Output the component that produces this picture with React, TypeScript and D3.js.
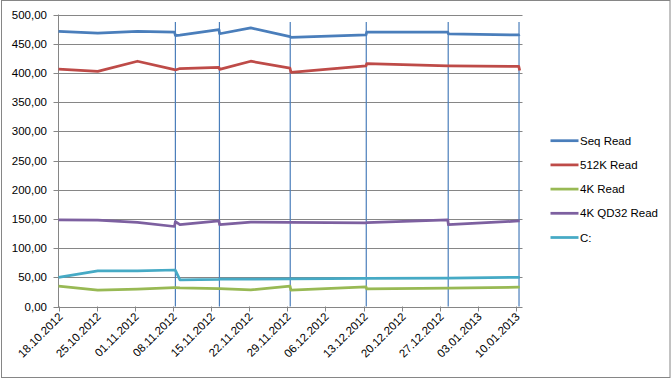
import React from "react";
import * as d3 from "d3";

const dates = [
  "2012-10-18 00:00", "2012-10-25 05:00", "2012-11-01 12:00", "2012-11-08 07:00",
  "2012-11-08 11:00", "2012-11-09 07:00", "2012-11-16 11:00", "2012-11-16 14:00",
  "2012-11-22 07:00", "2012-11-29 12:00", "2012-11-29 16:00", "2012-12-13 11:00",
  "2012-12-13 14:00", "2012-12-28 11:00", "2012-12-28 14:00", "2013-01-10 12:00",
  "2013-01-10 16:00",
];

const seqRead = [471, 468, 471, 470, 464, 464.5, 474, 467, 477, 462, 461, 465, 470, 470, 467, 465, 466];
const read512K = [406.5, 402.5, 420, 405.5, 405, 407.5, 409.5, 406, 420, 408, 401, 412, 416, 412, 412, 411, 404];
const read4K = [35, 28, 29.8, 32.5, 32.5, 32, 30.5, 30.5, 28.3, 35, 28, 33.5, 30, 31.5, 31.5, 33, 33];
const read4KQD32 = [148.5, 148, 144, 137, 145.5, 140, 146.5, 140, 144.5, 144, 144, 143, 143.5, 148.5, 140, 146.5, 146.5];
const driveC = [50, 61, 61, 62.5, 62, 45.7, 46.5, 47, 47, 47.3, 47.3, 48, 48, 48.5, 48.5, 50, 50];

const seriesNames = ["Seq Read", "512K Read", "4K Read", "4K QD32 Read", "C:"];
const seriesColors = ["#4A7EBB", "#BE4B48", "#98B954", "#7D60A0", "#46AAC5"];

const markerDates = [
  "2012-11-08 11:00", "2012-11-16 13:00", "2012-11-29 13:00",
  "2012-12-13 12:00", "2012-12-28 13:00", "2013-01-10 13:00",
];
const markerTop = 487;

const tickLabels = [
  "18.10.2012", "25.10.2012", "01.11.2012", "08.11.2012", "15.11.2012", "22.11.2012",
  "29.11.2012", "06.12.2012", "13.12.2012", "20.12.2012", "27.12.2012", "03.01.2013", "10.01.2013",
];
const yTicks = [0, 50, 100, 150, 200, 250, 300, 350, 400, 450, 500];
const domainStart = "2012-10-18 00:00";
const domainEnd = "2013-01-11 04:20";

const parse = d3.utcParse("%Y-%m-%d %H:%M");
const parseTick = d3.utcParse("%d.%m.%Y");

export default function App() {
  const W = 672, H = 379;
  const left = 58.5, right = 522.5, top = 14.5, bottom = 306.5;
  const x = d3.scaleUtc().domain([parse(domainStart)!, parse(domainEnd)!]).range([left, right]);
  const y = d3.scaleLinear().domain([0, 500]).range([bottom, top]);
  const font = "'Liberation Sans', Arial, sans-serif";
  const allSeries = [seqRead, read512K, read4K, read4KQD32, driveC];
  const parsedDates = dates.map((d) => parse(d)!);
  const line = d3
    .line<number>()
    .x((_, i) => x(parsedDates[i]))
    .y((v) => y(v));
  const fmt = (v: number) => d3.format(".2f")(v).replace(".", ",");

  return (
    <div style={{ position: "fixed", left: 0, top: 0 }}>
      <svg width={W} height={H} style={{ display: "block", background: "#fff" }}>
        <rect x={1.5} y={0.5} width={668.5} height={377} fill="#fff" stroke="#868686" strokeWidth={1} />
        {yTicks.map((t) => (
          <g key={t}>
            <line x1={left - 5} x2={right} y1={Math.round(y(t)) + 0.5} y2={Math.round(y(t)) + 0.5} stroke="#868686" strokeWidth={1} />
            <text x={47} y={y(t) + 4} textAnchor="end" fontFamily={font} fontSize={11.5} fill="#000">
              {fmt(t)}
            </text>
          </g>
        ))}
        <line x1={left} x2={left} y1={top} y2={bottom + 0.5} stroke="#868686" strokeWidth={1} />
        {tickLabels.map((t) => {
          const tx = Math.round(x(parseTick(t)!)) + 0.5;
          return (
            <g key={t}>
              <line x1={tx} x2={tx} y1={bottom} y2={bottom + 5} stroke="#868686" strokeWidth={1} />
              <text
                transform={`translate(${tx + 4},${bottom + 11}) rotate(-45)`}
                textAnchor="end"
                fontFamily={font}
                fontSize={11.5}
                fill="#000"
              >
                {t}
              </text>
            </g>
          );
        })}
        {markerDates.map((d) => {
          const mx = x(parse(d)!);
          return <line key={d} x1={mx} x2={mx} y1={y(markerTop)} y2={y(0)} stroke="#4A7EBB" strokeWidth={1.2} />;
        })}
        {allSeries.map((s, i) => (
          <path key={i} d={line(s) || ""} fill="none" stroke={seriesColors[i]} strokeWidth={2.75} strokeLinejoin="round" />
        ))}
        {seriesNames.map((n, i) => {
          const ly = 140.7 + i * 24.2;
          return (
            <g key={n}>
              <line x1={550.5} x2={578.5} y1={ly} y2={ly} stroke={seriesColors[i]} strokeWidth={2.75} />
              <text x={580} y={ly + 4} fontFamily={font} fontSize={11.5} fill="#000">
                {n}
              </text>
            </g>
          );
        })}
      </svg>
    </div>
  );
}
